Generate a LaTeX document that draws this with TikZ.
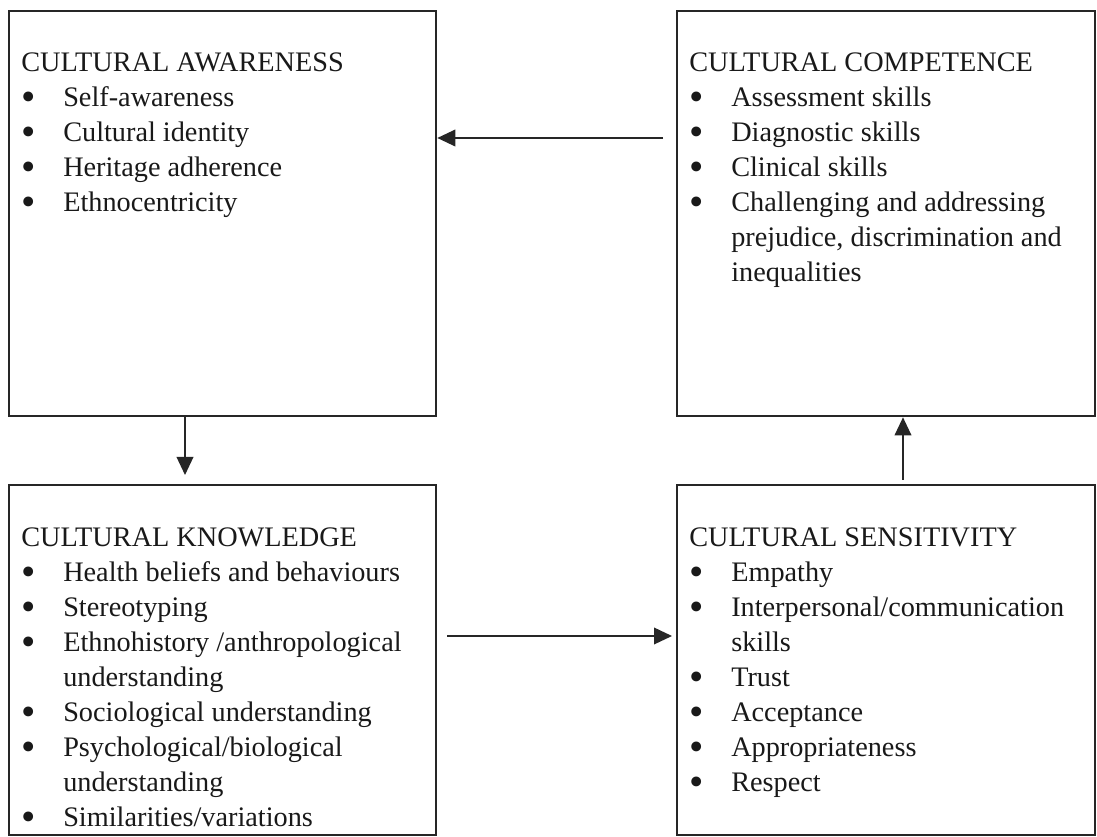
\documentclass[tikz,border=0pt]{standalone}
\usepackage{fontspec}
\usepackage{graphicx}
\setmainfont{Liberation Serif}
\usetikzlibrary{arrows.meta}
\newcommand{\blt}{\hspace*{0.2pt}\smash{\raisebox{-2.6pt}{\scalebox{1.45}{\textbullet}}}}
\begin{document}
\begin{tikzpicture}[x=0.75pt,y=-0.75pt,
  box/.style={draw=black!85,line width=2pt,rectangle,inner sep=0pt},
  arr/.style={draw=black!85,line width=1.1pt,-{Triangle[length=13.5pt,width=12.5pt]}},
  txt/.style={anchor=base west,inner sep=0pt,text=black!90,font=\fontsize{21.2pt}{26.25pt}\selectfont}]
\useasboundingbox (0,0) rectangle (1097,837);
\fill[white] (0,0) rectangle (1097,837);
% boxes
\node[box,minimum width=427*0.75pt,minimum height=405*0.75pt] (A) at (222.5,213.5) {};
\node[box,minimum width=418*0.75pt,minimum height=405*0.75pt] (C) at (886,213.5) {};
\node[box,minimum width=427*0.75pt,minimum height=350*0.75pt] (K) at (222.5,660) {};
\node[box,minimum width=418*0.75pt,minimum height=350*0.75pt] (S) at (886,660) {};
% texts
\node[txt] (tA) at (21,72) {\begin{tabular}[t]{@{}p{31.5pt}@{}l@{}}
\multicolumn{2}{@{}l@{}}{CULTURAL AWARENESS}\\
\blt & Self-awareness\\
\blt & Cultural identity\\
\blt & Heritage adherence\\
\blt & Ethnocentricity
\end{tabular}};
\node[txt] (tC) at (689,72) {\begin{tabular}[t]{@{}p{31.5pt}@{}l@{}}
\multicolumn{2}{@{}l@{}}{CULTURAL COMPETENCE}\\
\blt & Assessment skills\\
\blt & Diagnostic skills\\
\blt & Clinical skills\\
\blt & Challenging and addressing\\
 & prejudice, discrimination and\\
 & inequalities
\end{tabular}};
\node[txt] (tK) at (21,547) {\begin{tabular}[t]{@{}p{31.5pt}@{}l@{}}
\multicolumn{2}{@{}l@{}}{CULTURAL KNOWLEDGE}\\
\blt & Health beliefs and behaviours\\
\blt & Stereotyping\\
\blt & Ethnohistory /anthropological\\
 & understanding\\
\blt & Sociological understanding\\
\blt & Psychological/biological\\
 & understanding\\
\blt & Similarities/variations
\end{tabular}};
\node[txt] (tS) at (689,547) {\begin{tabular}[t]{@{}p{31.5pt}@{}l@{}}
\multicolumn{2}{@{}l@{}}{CULTURAL SENSITIVITY}\\
\blt & Empathy\\
\blt & Interpersonal/communication\\
 & skills\\
\blt & Trust\\
\blt & Acceptance\\
\blt & Appropriateness\\
\blt & Respect
\end{tabular}};
% connectors
\coordinate (ca) at (663,138);
\coordinate (ak) at (185,475);
\coordinate (ks) at (447,636);
\coordinate (ke) at (672,636);
\coordinate (sc) at (903,480);
\draw[arr] (ca) -- (A.east |- ca);
\draw[arr] (A.south -| ak) -- (ak);
\draw[arr] (ks) -- (ke);
\draw[arr] (sc) -- (C.south -| sc);
\end{tikzpicture}
\end{document}
